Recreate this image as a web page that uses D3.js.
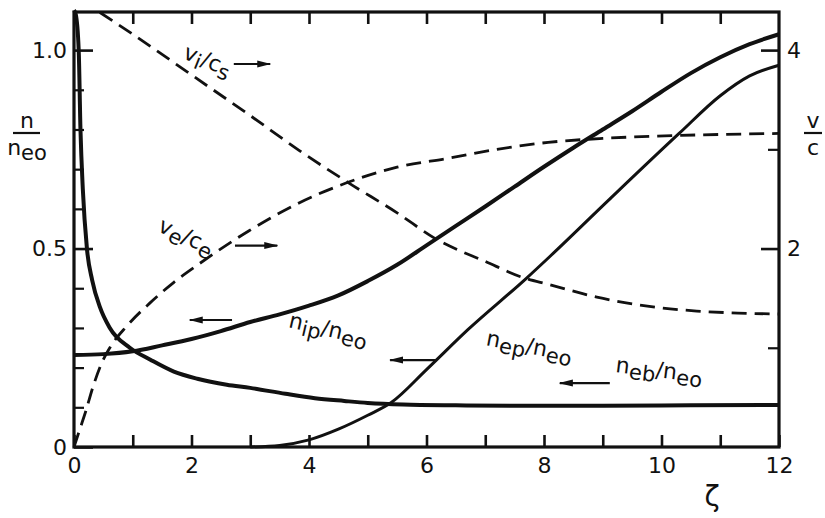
<!DOCTYPE html>
<html>
<head>
<meta charset="utf-8">
<script src="https://cdn.jsdelivr.net/npm/d3@7"></script>
<style>
  html, body { margin: 0; padding: 0; background: #fff; }
  svg { display: block; font-family: "DejaVu Sans", sans-serif; }
</style>
</head>
<body>
<svg id="chart" width="825" height="518"></svg>
<script>
// --- values -----------------------------------------------------------
// density curves (left axis, n / n_eo)
const zetaEb = [0, 0.03, 0.08, 0.11, 0.15, 0.22, 0.31, 0.44, 0.61, 0.95, 1.3, 1.7, 2.1, 2.6, 3.0, 3.6, 4.1, 4.6, 5.0, 5.6, 6.5, 7.5, 9, 10.5, 12];
const nEb    = [1.1, 1.09, 1.0, 0.8, 0.65, 0.5, 0.42, 0.353, 0.3, 0.25, 0.22, 0.19, 0.172, 0.157, 0.149, 0.134, 0.123, 0.116, 0.111, 0.107, 0.105, 0.104, 0.104, 0.105, 0.106];

const zetaIp = [0, 0.5, 1.0, 1.5, 2.0, 2.5, 3.0, 3.5, 4.0, 4.5, 5.0, 5.5, 6.0, 6.5, 7.0, 7.5, 8.0, 8.5, 9.0, 9.5, 10.0, 10.5, 11.0, 11.5, 12];
const nIp    = [0.232, 0.234, 0.241, 0.256, 0.272, 0.292, 0.315, 0.334, 0.356, 0.382, 0.418, 0.459, 0.508, 0.557, 0.606, 0.656, 0.706, 0.754, 0.8, 0.846, 0.895, 0.942, 0.982, 1.015, 1.04];

const zetaEp = [3.0, 3.5, 4.0, 4.5, 5.0, 5.4, 6.0, 6.7, 7.7, 8.1, 9.1, 10.3, 11.0, 11.5, 12];
const nEp    = [0, 0.004, 0.018, 0.045, 0.08, 0.112, 0.195, 0.295, 0.425, 0.48, 0.622, 0.79, 0.885, 0.935, 0.962];

// velocity curves (right axis, v / c)
const zetaVi = [0.44, 1, 2, 3, 3.83, 4.68, 5.5, 6.15, 7, 7.68, 8.07, 8.9, 9.76, 10.6, 11.3, 12];
const vVi    = [4.38, 4.16, 3.75, 3.34, 2.99, 2.66, 2.36, 2.1, 1.87, 1.7, 1.64, 1.51, 1.42, 1.37, 1.35, 1.34];

const zetaVe = [0, 0.1, 0.2, 0.32, 0.46, 0.61, 0.9, 1.29, 1.7, 2.14, 2.98, 3.83, 4.63, 5.5, 6.37, 7.2, 8.07, 9, 10.3, 11, 12];
const vVe    = [0, 0.18, 0.36, 0.6, 0.83, 1.0, 1.22, 1.45, 1.66, 1.85, 2.18, 2.46, 2.66, 2.82, 2.91, 3.0, 3.07, 3.11, 3.14, 3.15, 3.16];

// axis ticks
const xTicks = d3.range(0, 13);
const xLabelled = [0, 2, 4, 6, 8, 10, 12];
const nMajor = [0, 0.5, 1.0];
const nMinor = [0.1, 0.2, 0.3, 0.4, 0.6, 0.7, 0.8, 0.9];
const vMajor = [2, 4];
const vMinor = [1, 3];

// --- layout -----------------------------------------------------------
const svg = d3.select('#chart');
const plotLeft = 74, plotRight = 779, plotTop = 12, plotBottom = 447;

const x = d3.scaleLinear().domain([0, 12]).range([plotLeft, plotRight]);
const yN = d3.scaleLinear().domain([0, 1.096]).range([plotBottom, plotTop]);
const yV = d3.scaleLinear().domain([0, 4.384]).range([plotBottom, plotTop]);

function styleAxis(g, width) {
  g.select('.domain').remove();
  g.selectAll('.tick line').attr('stroke', '#111').attr('stroke-width', width);
  g.selectAll('.tick text').attr('fill', '#111').attr('font-size', 22).attr('font-family', '"DejaVu Sans", sans-serif');
}

// bottom / top
svg.append('g')
  .attr('transform', `translate(0,${plotBottom})`)
  .call(d3.axisBottom(x).tickValues(xTicks).tickSize(-12).tickPadding(10)
    .tickFormat((d) => (xLabelled.includes(d) ? d : '')))
  .call((g) => styleAxis(g, 2.6));
svg.append('g')
  .attr('transform', `translate(0,${plotTop})`)
  .call(d3.axisTop(x).tickValues(xTicks.slice(1, 12)).tickSize(-12).tickFormat(''))
  .call((g) => styleAxis(g, 2.6));

// left
svg.append('g')
  .attr('transform', `translate(${plotLeft},0)`)
  .call(d3.axisLeft(yN).tickValues(nMajor).tickSize(-19).tickPadding(7)
    .tickFormat((d) => (d === 0 ? '0' : d3.format('.1f')(d))))
  .call((g) => styleAxis(g, 2.6));
svg.append('g')
  .attr('transform', `translate(${plotLeft},0)`)
  .call(d3.axisLeft(yN).tickValues(nMinor).tickSize(-10).tickFormat(''))
  .call((g) => styleAxis(g, 2.2));

// right
svg.append('g')
  .attr('transform', `translate(${plotRight},0)`)
  .call(d3.axisRight(yV).tickValues(vMajor).tickSize(-18).tickPadding(8).tickFormat(d3.format('d')))
  .call((g) => styleAxis(g, 2.6));
svg.append('g')
  .attr('transform', `translate(${plotRight},0)`)
  .call(d3.axisRight(yV).tickValues(vMinor).tickSize(-11).tickFormat(''))
  .call((g) => styleAxis(g, 2.2));

// frame
svg.append('rect')
  .attr('x', plotLeft).attr('y', plotTop)
  .attr('width', plotRight - plotLeft).attr('height', plotBottom - plotTop)
  .attr('fill', 'none').attr('stroke', '#111').attr('stroke-width', 3.2);

// --- curves -----------------------------------------------------------
const pairs = (zs, vs) => zs.map((z, i) => ({ z, v: vs[i] }));
const lineN = d3.line().x((d) => x(d.z)).y((d) => yN(d.v)).curve(d3.curveMonotoneX);
const lineV = d3.line().x((d) => x(d.z)).y((d) => yV(d.v)).curve(d3.curveMonotoneX);

const curves = [
  { data: pairs(zetaEb, nEb), line: lineN, width: 4, dash: null },
  { data: pairs(zetaIp, nIp), line: lineN, width: 4, dash: null },
  { data: pairs(zetaEp, nEp), line: lineN, width: 3, dash: null },
  { data: pairs(zetaVi, vVi), line: lineV, width: 2.8, dash: '15,8' },
  { data: pairs(zetaVe, vVe), line: lineV, width: 2.8, dash: '15,8' },
];

svg.append('g')
  .selectAll('path')
  .data(curves)
  .join('path')
  .attr('d', (d) => d.line(d.data))
  .attr('fill', 'none')
  .attr('stroke', '#111')
  .attr('stroke-width', (d) => d.width)
  .attr('stroke-dasharray', (d) => d.dash)
  .attr('stroke-linejoin', 'round');

// --- curve labels and arrows ------------------------------------------
svg.append('defs').append('marker')
  .attr('id', 'head')
  .attr('markerUnits', 'userSpaceOnUse')
  .attr('markerWidth', 14).attr('markerHeight', 10)
  .attr('refX', 13).attr('refY', 5)
  .attr('orient', 'auto')
  .append('path')
  .attr('d', 'M0,1.5 L14,5 L0,8.5 Z')
  .attr('fill', '#111');

// label parts: [text, isSubscript]
const labels = [
  { parts: [['v', 0], ['i', 1], ['/', 0], ['c', 0], ['s', 1]], z: 1.84, val: 3.92, scale: yV, rot: 22,
    arrow: [2.72, 3.34, 3.86] },
  { parts: [['v', 0], ['e', 1], ['/', 0], ['c', 0], ['e', 1]], z: 1.41, val: 2.18, scale: yV, rot: 25,
    arrow: [2.74, 3.46, 2.03] },
  { parts: [['n', 0], ['ip', 1], ['/', 0], ['n', 0], ['eo', 1]], z: 3.64, val: 0.302, scale: yN, rot: 13,
    arrow: [2.69, 1.97, 0.32] },
  { parts: [['n', 0], ['ep', 1], ['/', 0], ['n', 0], ['eo', 1]], z: 7.0, val: 0.257, scale: yN, rot: 11,
    arrow: [6.18, 5.38, 0.219] },
  { parts: [['n', 0], ['eb', 1], ['/', 0], ['n', 0], ['eo', 1]], z: 9.21, val: 0.189, scale: yN, rot: 7,
    arrow: [9.12, 8.27, 0.161] },
];

function writeParts(text, parts, main, sub, shift) {
  let lowered = false;
  parts.forEach(([t, isSub]) => {
    const span = text.append('tspan').text(t).attr('font-size', isSub ? sub : main);
    if (isSub && !lowered) { span.attr('dy', shift); lowered = true; }
    else if (!isSub && lowered) { span.attr('dy', -shift); lowered = false; }
  });
}

labels.forEach((lab) => {
  const px = x(lab.z), py = lab.scale(lab.val);
  const t = svg.append('text')
    .attr('x', px).attr('y', py)
    .attr('fill', '#111')
    .attr('transform', `rotate(${lab.rot},${px},${py})`);
  writeParts(t, lab.parts, 22, 21, 5);

  const [z0, z1, av] = lab.arrow;
  svg.append('line')
    .attr('x1', x(z0)).attr('x2', x(z1))
    .attr('y1', lab.scale(av)).attr('y2', lab.scale(av))
    .attr('stroke', '#111').attr('stroke-width', 2.2)
    .attr('marker-end', 'url(#head)');
});

// --- axis titles ------------------------------------------------------
function fraction(cx, numParts, denParts) {
  const num = svg.append('text').attr('x', cx).attr('y', 128).attr('text-anchor', 'middle').attr('fill', '#111');
  writeParts(num, numParts, 22, 21, 5);
  const den = svg.append('text').attr('x', cx).attr('y', 155).attr('text-anchor', 'middle').attr('fill', '#111');
  writeParts(den, denParts, 22, 21, 5);
  return den;
}
fraction(27, [['n', 0]], [['n', 0], ['eo', 1]]);
svg.append('line').attr('x1', 13).attr('x2', 40).attr('y1', 133).attr('y2', 133)
  .attr('stroke', '#111').attr('stroke-width', 2.2);

fraction(813, [['v', 0]], [['c', 0]]);
svg.append('line').attr('x1', 804).attr('x2', 822).attr('y1', 133).attr('y2', 133)
  .attr('stroke', '#111').attr('stroke-width', 2.2);

svg.append('text')
  .attr('x', 712).attr('y', 506)
  .attr('text-anchor', 'middle')
  .attr('font-size', 28)
  .attr('fill', '#111')
  .text('ζ');
</script>
</body>
</html>
